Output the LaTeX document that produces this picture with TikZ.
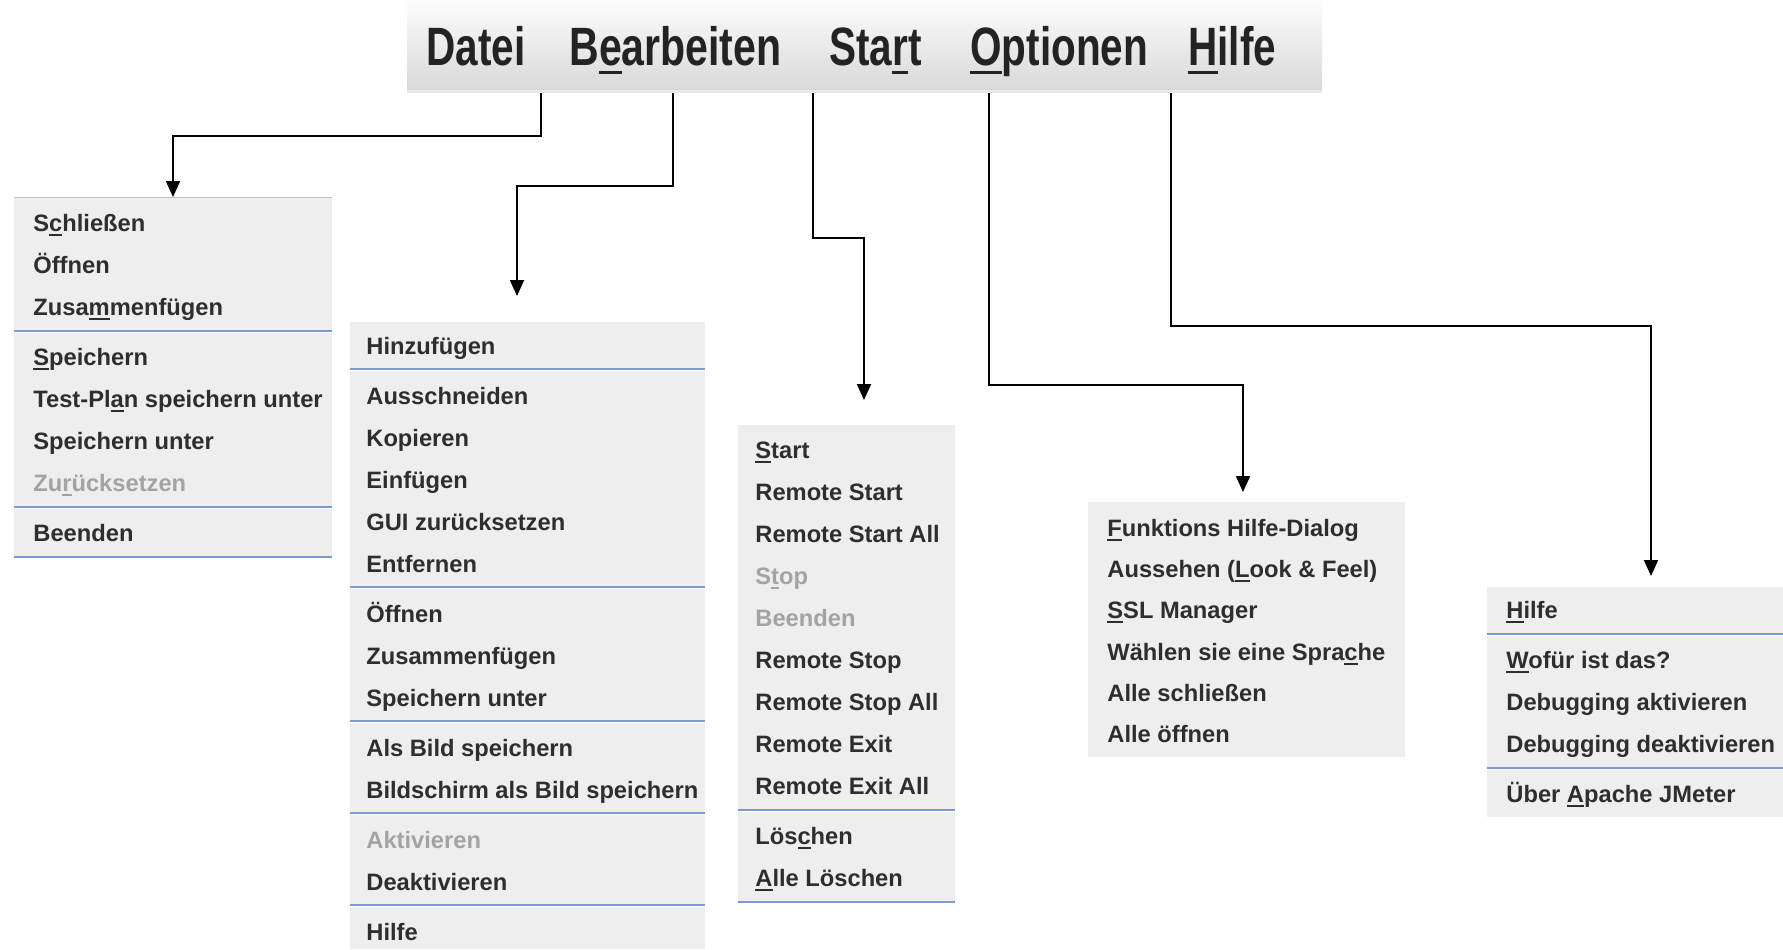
\documentclass[tikz,border=0pt]{standalone}
\usepackage{fontspec}
\setmainfont{Liberation Sans}
\usetikzlibrary{arrows.meta}

\definecolor{menubg}{HTML}{EEEEEE}
\definecolor{itemtext}{HTML}{2E2E2E}
\definecolor{greytext}{HTML}{A3A3A3}
\definecolor{sepblue}{HTML}{7D9AD0}
\definecolor{bartop}{HTML}{FCFCFC}
\definecolor{barbot}{HTML}{D9D9D9}
\definecolor{barstrip}{HTML}{E8E8E8}
\definecolor{bartext}{HTML}{232323}
\definecolor{edgegrey}{HTML}{C4C4C4}

% mnemonic underlines: menu entries and menu bar titles
\newcommand\mn[1]{\setbox0=\hbox{#1}\rlap{\rule[-2.4pt]{\wd0}{0.9pt}}#1}
\newcommand\mnbar[1]{\setbox0=\hbox{#1}\rlap{\rule[-4.4pt]{\wd0}{1.6pt}}#1}
% blue separator line with white highlight below
\newcommand\menusep[3]{%
  \draw[sepblue, line width=1pt] (#1,#3) -- (#2,#3);
  \draw[white, line width=0.6pt] (#1,{#3+1.6}) -- (#2,{#3+1.6});}

\tikzset{
  item/.style={anchor=base west, inner sep=0pt, text=itemtext,
               font=\fontsize{11.85pt}{14pt}\selectfont\bfseries},
  off/.style={item, text=greytext},
  title/.style={anchor=base west, inner sep=0pt, text=bartext,
                font=\fontsize{27pt}{30pt}\selectfont\bfseries},
  conn/.style={draw=black, line width=1pt, -{Triangle[length=8pt,width=7pt]}},
  menufill/.style={fill=menubg},
}

\begin{document}
\begin{tikzpicture}[x=0.5pt,y=-0.5pt]
\useasboundingbox (0,0) rectangle (1783,949);
\fill[white] (0,0) rectangle (1783,949);

% ---- menu bar ----
\shade[top color=bartop, bottom color=barbot] (407,0) rectangle (1322,90);
\fill[barstrip] (407,90) rectangle (1322,93);
\node[title] (tDatei) at (426,65) {\scalebox{0.75}[1]{Datei}};
\node[title] (tBearb) at (569,65) {\scalebox{0.76}[1]{B\mnbar{e}arbeiten}};
\node[title] (tStart) at (829,65) {\scalebox{0.75}[1]{Sta\mnbar{r}t}};
\node[title] (tOpt)   at (970,65) {\scalebox{0.75}[1]{\mnbar{O}ptionen}};
\node[title] (tHilfe) at (1188,65) {\scalebox{0.75}[1]{\mnbar{H}ilfe}};

% ---- Datei menu ----
\fill[menufill] (14,197) rectangle (332,559);
\draw[edgegrey, line width=0.5pt] (14,197) -- (332,197);
\node[item] (d1) at (33,231) {S\mn{c}hließen};
\node[item] (d2) at (33,273) {Öffnen};
\node[item] (d3) at (33,315) {Zusa\mn{m}menfügen};
\menusep{14}{332}{331}
\node[item] (d4) at (33,365) {\mn{S}peichern};
\node[item] (d5) at (33,407) {Test-Pl\mn{a}n speichern unter};
\node[item] (d6) at (33,449) {Speichern unter};
\node[off]  (d7) at (33,491) {Zu\mn{r}ücksetzen};
\menusep{14}{332}{507}
\node[item] (d8) at (33,541) {Beenden};
\menusep{14}{332}{557}

% ---- Bearbeiten menu ----
\fill[menufill] (350,322) rectangle (705,949);
\node[item] (b1) at (366,354) {Hinzufügen};
\menusep{350}{705}{369}
\node[item] (b2) at (366,404) {Ausschneiden};
\node[item] (b3) at (366,446) {Kopieren};
\node[item] (b4) at (366,488) {Einfügen};
\node[item] (b5) at (366,530) {GUI zurücksetzen};
\node[item] (b6) at (366,572) {Entfernen};
\menusep{350}{705}{587}
\node[item] (b7) at (366,622) {Öffnen};
\node[item] (b8) at (366,664) {Zusammenfügen};
\node[item] (b9) at (366,706) {Speichern unter};
\menusep{350}{705}{721}
\node[item] (b10) at (366,756) {Als Bild speichern};
\node[item] (b11) at (366,798) {Bildschirm als Bild speichern};
\menusep{350}{705}{813}
\node[off]  (b12) at (366,848) {Aktivieren};
\node[item] (b13) at (366,890) {Deaktivieren};
\menusep{350}{705}{905}
\node[item] (b14) at (366,940) {Hilfe};

% ---- Start menu ----
\fill[menufill] (738,425) rectangle (955,904);
\node[item] (s1)  at (755,458) {\mn{S}tart};
\node[item] (s2)  at (755,500) {Remote Start};
\node[item] (s3)  at (755,542) {Remote Start All};
\node[off]  (s4)  at (755,584) {S\mn{t}op};
\node[off]  (s5)  at (755,626) {Beenden};
\node[item] (s6)  at (755,668) {Remote Stop};
\node[item] (s7)  at (755,710) {Remote Stop All};
\node[item] (s8)  at (755,752) {Remote Exit};
\node[item] (s9)  at (755,794) {Remote Exit All};
\menusep{738}{955}{810}
\node[item] (s10) at (755,844) {Lös\mn{c}hen};
\node[item] (s11) at (755,886) {\mn{A}lle Löschen};
\menusep{738}{955}{902}

% ---- Optionen menu ----
\fill[menufill] (1088,502) rectangle (1405,757);
\node[item] (o1) at (1107,536) {\mn{F}unktions Hilfe-Dialog};
\node[item] (o2) at (1107,577) {Aussehen (\mn{L}ook \& Feel)};
\node[item] (o3) at (1107,618) {\mn{S}SL Manager};
\node[item] (o4) at (1107,660) {Wählen sie eine Spra\mn{c}he};
\node[item] (o5) at (1107,701) {Alle schließen};
\node[item] (o6) at (1107,742) {Alle öffnen};

% ---- Hilfe menu ----
\fill[menufill] (1487,587) rectangle (1783,817);
\node[item] (h1) at (1506,618) {\mn{H}ilfe};
\menusep{1487}{1783}{634}
\node[item] (h2) at (1506,668) {\mn{W}ofür ist das?};
\node[item] (h3) at (1506,710) {Debugging aktivieren};
\node[item] (h4) at (1506,752) {Debugging deaktivieren};
\menusep{1487}{1783}{768}
\node[item] (h5) at (1506,802) {Über \mn{A}pache JMeter};

% ---- connectors from the menu bar to each menu ----
\coordinate (aD0) at (541,93);  \coordinate (aD1) at (173,197);
\coordinate (aB0) at (673,93);  \coordinate (aB1) at (517,296);
\coordinate (aS0) at (813,93);  \coordinate (aS1) at (864,400);
\coordinate (aO0) at (989,93);  \coordinate (aO1) at (1243,492);
\coordinate (aH0) at (1171,93); \coordinate (aH1) at (1651,576);

\draw[conn] (aD0) -- ++(0,43)  -| (aD1);
\draw[conn] (aB0) -- ++(0,93)  -| (aB1);
\draw[conn] (aS0) -- ++(0,145) -| (aS1);
\draw[conn] (aO0) -- ++(0,292) -| (aO1);
\draw[conn] (aH0) -- ++(0,233) -| (aH1);
\end{tikzpicture}
\end{document}
